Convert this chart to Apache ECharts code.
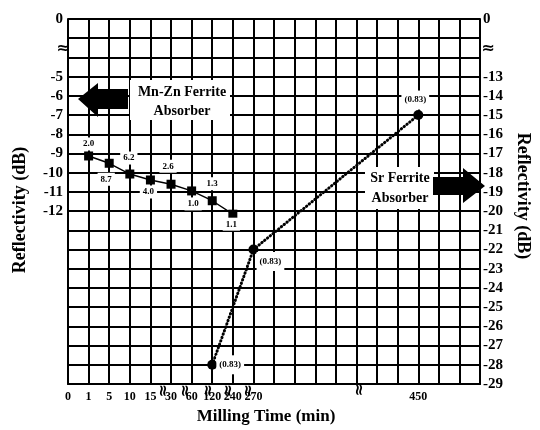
<!DOCTYPE html>
<html><head><meta charset="utf-8">
<script src="https://cdn.jsdelivr.net/npm/echarts@6/dist/echarts.min.js"></script>
<style>html,body{margin:0;padding:0;background:#fff}#c{width:540px;height:430px}</style>
</head><body><div id="c"></div>
<script>
// ---- data ----
const timeCategories = ['0','1','5','10','15','30','60','120','240','270','_10','_11','_12','_13','_14','_15','_16','450','_18','_19','_20'];
const mnznTimes = ['1','5','10','15','30','60','120','240'];
const mnznReflectivity = [-9.13,-9.51,-10.07,-10.38,-10.6,-10.95,-11.46,-12.16];
const mnznLabels = ['2.0','8.7','6.2','4.0','2.6','1.0','1.3','1.1'];
const srTimes = ['120','270','450'];
const srReflectivity = [-28,-22,-15];
const srLabels = ['(0.83)','(0.83)','(0.83)'];
const leftTickLabels = ['0','-5','-6','-7','-8','-9','-10','-11','-12'];
const rightTickLabels = ['0','-13','-14','-15','-16','-17','-18','-19','-20','-21','-22','-23','-24','-25','-26','-27','-28','-29'];

// ---- layout ----
const FONT = 'Liberation Serif';
const LINE = '#000';
const LW = 2;
const leftTop = -2, leftBottom = -21;   // axis value shown as "0" at the top (broken axis)
const rightTop = -10, rightBottom = -29;
const mnznLabelOffsets = [[0,-12],[-3,16],[-1,-16],[-2,12],[-3,-18],[1.5,13],[0,-17],[-1.5,10]];
const srLabelOffsets = [[18,0],[17,12],[-3,-15]];

function leftFmt(v){ if (v === leftTop) return leftTickLabels[0]; return leftTickLabels.indexOf(String(v)) > 0 ? String(v) : ''; }
function rightFmt(v){ if (v === rightTop) return rightTickLabels[0]; return rightTickLabels.indexOf(String(v)) > 0 ? String(v) : ''; }

const chart = echarts.init(document.getElementById('c'), null, {renderer:'canvas'});
const labelBase = {show:true, position:'inside', color:'#000', fontFamily:FONT, fontWeight:'bold', fontSize:9, backgroundColor:'#fff'};
const breakStyle = {text:'≈', font:'bold 16px "DejaVu Sans"', fill:'#000', align:'center', verticalAlign:'middle'};

chart.setOption({
  animation:false,
  backgroundColor:'#fff',
  grid:{left:68, right:48, top:19, bottom:44},
  xAxis:{
    type:'category', boundaryGap:false, data:timeCategories,
    axisLine:{show:true, lineStyle:{color:LINE, width:LW}},
    axisTick:{show:false},
    splitLine:{show:true, interval:0, lineStyle:{color:LINE, width:LW}},
    axisLabel:{interval:0, margin:7, color:'#000', fontFamily:FONT, fontWeight:'bold', fontSize:12,
      formatter:v => v.charAt(0) === '_' ? '' : v},
    name:'Milling Time (min)', nameLocation:'middle', nameGap:24,
    nameTextStyle:{color:'#000', fontFamily:FONT, fontWeight:'bold', fontSize:17, verticalAlign:'top', padding:[0,16,0,0]}
  },
  yAxis:[{
    type:'value', min:leftBottom, max:leftTop, interval:1, position:'left',
    axisLine:{show:true, lineStyle:{color:LINE, width:LW}},
    axisTick:{show:false},
    splitLine:{show:true, lineStyle:{color:LINE, width:LW}},
    axisLabel:{formatter:leftFmt, margin:5, color:'#000', fontFamily:FONT, fontWeight:'bold', fontSize:15},
    name:'Reflectivity (dB)', nameLocation:'middle', nameGap:39, nameRotate:90,
    nameTextStyle:{color:'#000', fontFamily:FONT, fontWeight:'bold', fontSize:18, padding:[0,17,0,0]}
  },{
    type:'value', min:rightBottom, max:rightTop, interval:1, position:'right',
    axisLine:{show:true, lineStyle:{color:LINE, width:LW}},
    axisTick:{show:false},
    splitLine:{show:false},
    axisLabel:{formatter:rightFmt, margin:3, color:'#000', fontFamily:FONT, fontWeight:'bold', fontSize:15},
    name:'Reflectivity (dB)', nameLocation:'middle', nameGap:29, nameRotate:-90,
    nameTextStyle:{color:'#000', fontFamily:FONT, fontWeight:'bold', fontSize:18, padding:[0,11,0,0]}
  }],
  series:[{
    name:'Mn-Zn Ferrite', type:'line', yAxisIndex:0, z:5,
    symbol:'rect', symbolSize:9, itemStyle:{color:'#000'},
    lineStyle:{color:'#000', width:1.4},
    data: mnznTimes.map((t,i) => ({value:[t, mnznReflectivity[i]],
      label:Object.assign({}, labelBase, {formatter:mnznLabels[i], offset:mnznLabelOffsets[i], padding:[2,3]})}))
  },{
    name:'Sr Ferrite', type:'line', yAxisIndex:1, z:5,
    symbol:'circle', symbolSize:10, itemStyle:{color:'#000'},
    lineStyle:{color:'#000', width:3, type:[0.4,3.2], cap:'round'},
    data: srTimes.map((t,i) => ({value:[t, srReflectivity[i]],
      label:Object.assign({}, labelBase, {formatter:srLabels[i], offset:srLabelOffsets[i], padding:[5,3]})}))
  }],
  graphic:[
    // Mn-Zn annotation
    {type:'rect', shape:{x:130, y:80, width:100, height:40}, style:{fill:'#fff'}, z:10},
    {type:'text', x:182, y:102, z:11, style:{text:'Mn-Zn Ferrite\nAbsorber', font:'bold 14px "Liberation Serif"', fill:'#000', align:'center', verticalAlign:'middle', lineHeight:19}},
    {type:'polygon', z:11, shape:{points:[[78,99],[98,83],[98,89],[128,89],[128,109],[98,109],[98,117]]}, style:{fill:'#000'}},
    // Sr annotation
    {type:'rect', shape:{x:365, y:167, width:69, height:42}, style:{fill:'#fff'}, z:10},
    {type:'text', x:400, y:188, z:11, style:{text:'Sr Ferrite\nAbsorber', font:'bold 14px "Liberation Serif"', fill:'#000', align:'center', verticalAlign:'middle', lineHeight:20}},
    {type:'polygon', z:11, shape:{points:[[433,177],[463,177],[463,168],[485,186],[463,203],[463,195],[433,195]]}, style:{fill:'#000'}},
    // axis break marks
    {type:'text', x:63, y:49, z:11, style:breakStyle},
    {type:'text', x:488, y:49, z:11, style:breakStyle},
    {type:'text', x:164, y:391, rotation:Math.PI/2, z:11, style:breakStyle},
    {type:'text', x:186, y:391, rotation:Math.PI/2, z:11, style:breakStyle},
    {type:'text', x:209, y:391, rotation:Math.PI/2, z:11, style:breakStyle},
    {type:'text', x:229, y:391, rotation:Math.PI/2, z:11, style:breakStyle},
    {type:'text', x:249, y:391, rotation:Math.PI/2, z:11, style:breakStyle},
    {type:'text', x:360, y:390, rotation:Math.PI/2, z:11, style:breakStyle}
  ]
});
</script></body></html>
